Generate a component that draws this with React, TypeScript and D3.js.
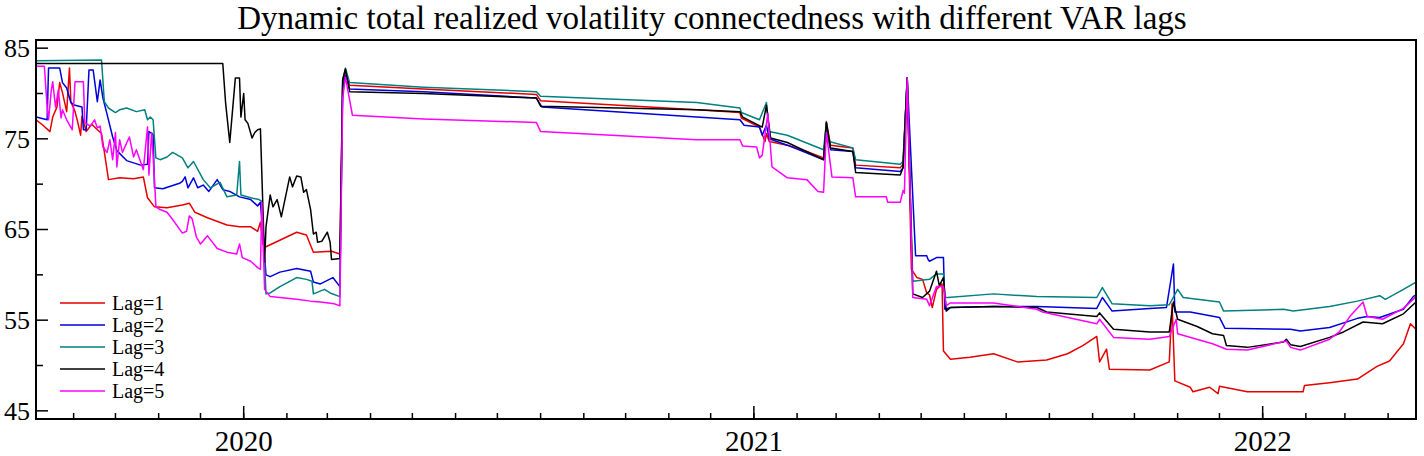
import * as d3 from "d3";

const title = "Dynamic total realized volatility connectedness with different VAR lags";
const seriesNames = ["Lag=1", "Lag=2", "Lag=3", "Lag=4", "Lag=5"];
const seriesColors = ["#e60000", "#0000dd", "#008080", "#000000", "#ff00ff"];
const yMajorTicks = [45, 55, 65, 75, 85];
const yMinorTicks = [50, 60, 70, 80];
const startDate = "2019-08-05";
const endDate = "2022-04-21";

const lag1: [string, number][] = [
  ["2019-08-05", 77.1], ["2019-08-10", 76.5], ["2019-08-15", 75.8], ["2019-08-17", 77.4], ["2019-08-20", 78.5],
  ["2019-08-22", 81.2], ["2019-08-24", 80.1], ["2019-08-27", 78.0], ["2019-08-29", 82.8], ["2019-08-30", 79.1],
  ["2019-09-02", 78.0], ["2019-09-04", 76.8], ["2019-09-06", 75.4], ["2019-09-07", 77.5], ["2019-09-10", 75.8],
  ["2019-09-14", 76.6], ["2019-09-18", 76.0], ["2019-09-21", 75.6], ["2019-09-23", 73.6], ["2019-09-26", 70.5],
  ["2019-10-04", 70.7], ["2019-10-14", 70.6], ["2019-10-21", 70.8], ["2019-10-24", 68.5], ["2019-10-29", 67.5],
  ["2019-11-07", 67.4], ["2019-11-18", 67.7], ["2019-11-23", 67.9], ["2019-11-27", 66.9], ["2019-12-06", 66.3],
  ["2019-12-20", 65.5], ["2019-12-29", 65.3], ["2020-01-06", 65.3], ["2020-01-11", 64.8], ["2020-01-13", 65.8],
  ["2020-01-15", 63.3], ["2020-01-17", 63.1], ["2020-02-08", 64.7], ["2020-02-15", 64.4], ["2020-02-20", 62.5],
  ["2020-03-04", 62.6], ["2020-03-10", 62.3], ["2020-03-12", 81.0], ["2020-03-14", 82.5], ["2020-03-17", 80.9],
  ["2020-05-09", 80.5], ["2020-07-29", 79.9], ["2020-08-01", 79.2], ["2020-11-21", 78.2], ["2020-12-22", 77.9],
  ["2020-12-23", 77.3], ["2021-01-05", 76.3], ["2021-01-09", 74.7], ["2021-01-10", 75.6], ["2021-01-12", 74.7],
  ["2021-01-25", 74.3], ["2021-02-08", 73.6], ["2021-02-20", 72.9], ["2021-02-22", 76.9], ["2021-02-25", 74.3],
  ["2021-03-13", 74.0], ["2021-03-15", 72.1], ["2021-04-16", 71.8], ["2021-04-18", 72.2], ["2021-04-21", 81.7],
  ["2021-04-24", 60.6], ["2021-04-28", 59.7], ["2021-05-02", 59.5], ["2021-05-05", 58.0], ["2021-05-07", 57.8],
  ["2021-05-09", 56.4], ["2021-05-12", 58.4], ["2021-05-16", 59.0], ["2021-05-17", 51.6], ["2021-05-22", 50.7],
  ["2021-06-05", 50.9], ["2021-06-22", 51.3], ["2021-07-09", 50.4], ["2021-07-30", 50.6], ["2021-08-14", 51.3],
  ["2021-08-25", 52.2], ["2021-09-04", 53.2], ["2021-09-06", 50.4], ["2021-09-11", 51.8], ["2021-09-13", 49.6],
  ["2021-10-12", 49.5], ["2021-10-26", 50.4], ["2021-10-28", 56.8], ["2021-10-30", 48.3], ["2021-11-10", 47.6],
  ["2021-11-12", 47.1], ["2021-11-24", 47.6], ["2021-11-30", 46.9], ["2021-12-01", 47.7], ["2021-12-21", 47.1],
  ["2022-01-21", 47.1], ["2022-01-30", 47.1], ["2022-01-31", 47.8], ["2022-02-18", 48.1], ["2022-03-10", 48.5],
  ["2022-03-24", 49.9], ["2022-04-02", 50.5], ["2022-04-12", 52.4], ["2022-04-17", 54.6], ["2022-04-21", 54.0],
];

const lag2: [string, number][] = [
  ["2019-08-05", 77.4], ["2019-08-13", 77.1], ["2019-08-14", 82.8], ["2019-08-22", 82.8], ["2019-08-24", 81.2],
  ["2019-08-27", 80.6], ["2019-08-30", 79.0], ["2019-09-02", 78.7], ["2019-09-07", 78.5], ["2019-09-08", 76.0],
  ["2019-09-10", 76.0], ["2019-09-12", 82.6], ["2019-09-15", 82.6], ["2019-09-18", 79.1], ["2019-09-20", 81.5],
  ["2019-09-22", 79.5], ["2019-09-25", 77.7], ["2019-09-29", 75.2], ["2019-10-02", 73.7], ["2019-10-09", 72.6],
  ["2019-10-19", 72.1], ["2019-10-24", 72.2], ["2019-10-25", 75.8], ["2019-10-28", 75.5], ["2019-10-29", 69.6],
  ["2019-11-04", 69.5], ["2019-11-16", 70.1], ["2019-11-18", 70.3], ["2019-11-20", 70.8], ["2019-11-22", 69.6],
  ["2019-11-26", 70.7], ["2019-11-29", 69.6], ["2019-12-03", 69.9], ["2019-12-07", 69.2], ["2019-12-13", 70.5],
  ["2019-12-17", 69.4], ["2019-12-22", 69.2], ["2019-12-29", 68.6], ["2020-01-06", 68.3], ["2020-01-11", 67.6],
  ["2020-01-13", 68.0], ["2020-01-17", 60.0], ["2020-01-20", 59.8], ["2020-01-27", 60.3], ["2020-02-08", 60.7],
  ["2020-02-18", 60.4], ["2020-02-20", 59.2], ["2020-02-25", 59.0], ["2020-03-05", 59.7], ["2020-03-10", 58.7],
  ["2020-03-12", 80.5], ["2020-03-14", 82.0], ["2020-03-17", 80.5], ["2020-05-09", 80.2], ["2020-07-29", 79.5],
  ["2020-08-02", 78.5], ["2020-11-21", 77.4], ["2020-12-22", 77.1], ["2020-12-25", 76.5], ["2021-01-05", 76.3],
  ["2021-01-07", 75.4], ["2021-01-10", 76.5], ["2021-01-12", 75.0], ["2021-01-25", 74.3], ["2021-02-20", 72.7],
  ["2021-02-22", 76.0], ["2021-02-25", 73.8], ["2021-03-13", 73.6], ["2021-03-15", 71.8], ["2021-04-16", 71.4],
  ["2021-04-18", 71.8], ["2021-04-21", 81.7], ["2021-04-27", 62.1], ["2021-05-05", 62.1], ["2021-05-06", 61.7],
  ["2021-05-07", 61.5], ["2021-05-12", 61.9], ["2021-05-17", 61.9], ["2021-05-18", 56.2], ["2021-05-22", 56.4],
  ["2021-06-22", 56.5], ["2021-07-23", 56.5], ["2021-09-04", 56.3], ["2021-09-08", 57.5], ["2021-09-15", 56.0],
  ["2021-10-12", 56.3], ["2021-10-24", 56.4], ["2021-10-29", 61.2], ["2021-10-30", 55.9], ["2021-11-10", 55.9],
  ["2021-12-01", 55.3], ["2021-12-05", 54.1], ["2022-01-21", 54.0], ["2022-01-28", 53.8], ["2022-02-18", 54.2],
  ["2022-03-10", 55.2], ["2022-03-17", 55.4], ["2022-03-26", 55.3], ["2022-04-12", 56.2], ["2022-04-19", 57.6],
  ["2022-04-21", 57.8],
];

const lag3: [string, number][] = [
  ["2019-08-05", 83.6], ["2019-09-21", 83.7], ["2019-09-23", 79.1], ["2019-09-26", 78.4], ["2019-10-01", 77.9],
  ["2019-10-04", 78.2], ["2019-10-09", 78.4], ["2019-10-16", 78.0], ["2019-10-22", 78.2], ["2019-10-24", 77.1],
  ["2019-10-26", 77.4], ["2019-10-28", 77.1], ["2019-10-30", 72.9], ["2019-11-02", 72.7], ["2019-11-07", 73.0],
  ["2019-11-11", 73.5], ["2019-11-18", 72.9], ["2019-11-22", 71.8], ["2019-11-26", 72.5], ["2019-12-03", 70.5],
  ["2019-12-08", 69.6], ["2019-12-15", 70.2], ["2019-12-20", 68.6], ["2019-12-27", 68.8], ["2019-12-29", 72.5],
  ["2019-12-30", 68.8], ["2020-01-06", 68.5], ["2020-01-12", 68.3], ["2020-01-14", 68.1], ["2020-01-17", 57.9],
  ["2020-01-20", 58.0], ["2020-01-27", 58.7], ["2020-02-08", 59.7], ["2020-02-15", 59.5], ["2020-02-19", 59.3],
  ["2020-02-20", 57.9], ["2020-02-28", 58.4], ["2020-03-03", 58.0], ["2020-03-10", 57.6], ["2020-03-12", 81.5],
  ["2020-03-14", 82.8], ["2020-03-17", 81.2], ["2020-05-09", 80.7], ["2020-07-29", 80.2], ["2020-08-01", 79.7],
  ["2020-11-21", 79.0], ["2020-12-22", 78.4], ["2020-12-23", 77.9], ["2021-01-05", 77.1], ["2021-01-10", 79.0],
  ["2021-01-12", 75.8], ["2021-01-25", 75.4], ["2021-02-20", 73.8], ["2021-02-22", 76.8], ["2021-02-24", 74.7],
  ["2021-03-13", 74.0], ["2021-03-15", 72.7], ["2021-04-16", 72.2], ["2021-04-18", 72.5], ["2021-04-21", 81.7],
  ["2021-04-25", 59.3], ["2021-05-07", 59.5], ["2021-05-12", 60.1], ["2021-05-17", 60.1], ["2021-05-18", 57.5],
  ["2021-05-20", 57.5], ["2021-06-22", 57.9], ["2021-07-23", 57.6], ["2021-09-04", 57.5], ["2021-09-08", 58.6],
  ["2021-09-15", 56.8], ["2021-10-12", 56.6], ["2021-10-26", 56.7], ["2021-11-01", 58.4], ["2021-11-05", 57.5],
  ["2021-12-01", 57.0], ["2021-12-04", 56.0], ["2022-01-16", 56.2], ["2022-01-23", 56.0], ["2022-02-18", 56.5],
  ["2022-03-10", 57.1], ["2022-03-26", 57.7], ["2022-03-30", 57.3], ["2022-04-12", 58.4], ["2022-04-21", 59.2],
];

const lag4: [string, number][] = [
  ["2019-08-05", 83.3], ["2019-12-17", 83.3], ["2019-12-19", 79.0], ["2019-12-22", 74.6], ["2019-12-26", 81.7],
  ["2019-12-29", 81.7], ["2019-12-30", 77.4], ["2020-01-01", 80.0], ["2020-01-02", 77.1], ["2020-01-04", 76.7],
  ["2020-01-07", 75.1], ["2020-01-09", 75.7], ["2020-01-11", 76.0], ["2020-01-13", 76.1], ["2020-01-16", 61.4],
  ["2020-01-17", 65.3], ["2020-01-20", 68.8], ["2020-01-22", 67.5], ["2020-01-25", 68.3], ["2020-01-28", 66.4],
  ["2020-01-31", 68.6], ["2020-02-03", 70.8], ["2020-02-05", 69.7], ["2020-02-08", 70.9], ["2020-02-11", 70.8],
  ["2020-02-13", 69.1], ["2020-02-15", 69.4], ["2020-02-18", 67.2], ["2020-02-20", 64.5], ["2020-02-22", 64.7],
  ["2020-02-23", 63.6], ["2020-02-26", 63.7], ["2020-03-01", 64.7], ["2020-03-03", 63.6], ["2020-03-04", 61.7],
  ["2020-03-10", 61.8], ["2020-03-12", 81.5], ["2020-03-14", 82.7], ["2020-03-17", 80.2], ["2020-05-09", 80.0],
  ["2020-07-29", 79.5], ["2020-08-01", 78.6], ["2020-11-21", 78.2], ["2020-12-22", 78.0], ["2020-12-24", 77.4],
  ["2021-01-07", 76.3], ["2021-01-10", 78.7], ["2021-01-13", 75.1], ["2021-01-25", 74.6], ["2021-02-20", 72.7],
  ["2021-02-22", 76.8], ["2021-02-25", 74.0], ["2021-03-13", 73.6], ["2021-03-15", 71.3], ["2021-04-16", 71.0],
  ["2021-04-18", 71.8], ["2021-04-21", 81.7], ["2021-04-25", 57.9], ["2021-05-02", 57.5], ["2021-05-07", 58.2],
  ["2021-05-12", 60.4], ["2021-05-14", 58.8], ["2021-05-17", 59.7], ["2021-05-19", 56.0], ["2021-05-22", 56.4],
  ["2021-06-22", 56.5], ["2021-07-23", 56.4], ["2021-07-30", 55.9], ["2021-09-04", 55.4], ["2021-09-06", 55.8],
  ["2021-09-16", 54.0], ["2021-10-12", 53.7], ["2021-10-26", 53.7], ["2021-10-29", 57.0], ["2021-11-01", 55.1],
  ["2021-11-15", 54.3], ["2021-11-26", 53.5], ["2021-12-04", 53.3], ["2021-12-06", 52.2], ["2021-12-21", 52.0],
  ["2022-01-16", 52.6], ["2022-01-18", 52.9], ["2022-01-21", 52.3], ["2022-01-28", 52.1], ["2022-02-18", 53.1],
  ["2022-02-28", 53.7], ["2022-03-14", 54.8], ["2022-03-28", 54.6], ["2022-04-12", 55.7], ["2022-04-21", 57.0],
];

const lag5: [string, number][] = [
  ["2019-08-05", 83.0], ["2019-08-11", 83.0], ["2019-08-13", 78.5], ["2019-08-14", 77.1], ["2019-08-16", 80.4],
  ["2019-08-17", 81.3], ["2019-08-19", 78.5], ["2019-08-21", 80.4], ["2019-08-23", 77.3], ["2019-08-24", 78.2],
  ["2019-08-27", 77.1], ["2019-08-31", 76.0], ["2019-09-02", 81.3], ["2019-09-08", 81.3], ["2019-09-09", 76.8],
  ["2019-09-13", 76.4], ["2019-09-16", 77.1], ["2019-09-18", 76.2], ["2019-09-20", 76.4], ["2019-09-22", 74.1],
  ["2019-09-25", 73.5], ["2019-09-27", 74.9], ["2019-09-29", 72.7], ["2019-10-01", 75.7], ["2019-10-02", 71.9],
  ["2019-10-04", 74.9], ["2019-10-06", 73.5], ["2019-10-08", 74.2], ["2019-10-11", 75.2], ["2019-10-14", 73.0],
  ["2019-10-16", 73.8], ["2019-10-21", 71.6], ["2019-10-24", 76.3], ["2019-10-25", 71.0], ["2019-10-27", 75.7],
  ["2019-10-29", 70.5], ["2019-10-30", 67.5], ["2019-11-02", 67.2], ["2019-11-07", 66.9], ["2019-11-11", 66.1],
  ["2019-11-18", 64.6], ["2019-11-21", 64.8], ["2019-11-23", 66.5], ["2019-11-25", 66.2], ["2019-11-28", 64.2],
  ["2019-12-01", 63.4], ["2019-12-06", 64.3], ["2019-12-13", 62.9], ["2019-12-20", 62.5], ["2019-12-27", 62.3],
  ["2019-12-29", 63.4], ["2019-12-31", 61.9], ["2020-01-06", 61.5], ["2020-01-11", 60.8], ["2020-01-13", 60.6],
  ["2020-01-14", 68.0], ["2020-01-16", 58.4], ["2020-01-20", 57.6], ["2020-01-27", 57.5], ["2020-02-08", 57.3],
  ["2020-02-18", 57.1], ["2020-02-25", 57.0], ["2020-03-06", 56.8], ["2020-03-10", 56.6], ["2020-03-12", 79.5],
  ["2020-03-14", 81.8], ["2020-03-19", 77.6], ["2020-05-09", 77.2], ["2020-07-29", 76.8], ["2020-08-01", 75.8],
  ["2020-11-21", 74.9], ["2020-12-22", 74.9], ["2020-12-24", 74.2], ["2021-01-03", 74.1], ["2021-01-05", 72.9],
  ["2021-01-07", 73.2], ["2021-01-11", 77.8], ["2021-01-14", 71.9], ["2021-01-25", 70.7], ["2021-02-08", 70.5],
  ["2021-02-16", 69.2], ["2021-02-20", 69.1], ["2021-02-22", 75.7], ["2021-02-26", 70.8], ["2021-03-13", 70.7],
  ["2021-03-15", 68.6], ["2021-04-06", 68.6], ["2021-04-07", 68.0], ["2021-04-16", 68.0], ["2021-04-18", 69.3],
  ["2021-04-19", 69.0], ["2021-04-21", 81.7], ["2021-04-25", 57.5], ["2021-05-05", 57.3], ["2021-05-07", 56.6],
  ["2021-05-12", 58.7], ["2021-05-17", 58.7], ["2021-05-19", 56.6], ["2021-05-22", 56.9], ["2021-06-22", 56.9],
  ["2021-07-23", 56.2], ["2021-07-27", 55.9], ["2021-09-04", 54.6], ["2021-09-06", 55.1], ["2021-09-16", 53.1],
  ["2021-10-12", 52.9], ["2021-10-26", 53.2], ["2021-10-31", 55.1], ["2021-11-01", 53.5], ["2021-11-26", 52.4],
  ["2021-12-06", 51.8], ["2021-12-21", 51.7], ["2022-01-18", 52.7], ["2022-01-21", 52.0], ["2022-01-28", 51.7],
  ["2022-02-18", 52.9], ["2022-02-25", 53.7], ["2022-03-05", 55.5], ["2022-03-14", 57.0], ["2022-03-17", 55.4],
  ["2022-03-28", 55.1], ["2022-04-12", 56.3], ["2022-04-21", 57.6],
];

const allSeries = [lag1, lag2, lag3, lag4, lag5];

const W = 1424;
const H = 456;
const margin = { top: 40, right: 8, bottom: 37, left: 36 };
const font = "'Liberation Serif', 'Times New Roman', serif";

export default function App() {
  const parse = d3.timeParse("%Y-%m-%d");
  const x = d3.scaleTime()
    .domain([parse(startDate)!, parse(endDate)!])
    .range([margin.left, W - margin.right]);
  const y = d3.scaleLinear()
    .domain([44.1, 85.9])
    .range([H - margin.bottom, margin.top]);

  const line = d3.line<[string, number]>()
    .x(d => x(parse(d[0])!))
    .y(d => y(d[1]));

  const monthTicks = x.ticks(d3.timeMonth.every(1)!);
  const yearTicks = x.ticks(d3.timeYear.every(1)!);
  const x0 = margin.left, x1 = W - margin.right;
  const y0 = H - margin.bottom, y1 = margin.top;

  return (
    <svg width={W} height={H} style={{ position: "absolute", left: 0, top: 0, background: "#fff" }}
      fontFamily={font}>
      <defs>
        <clipPath id="plot">
          <rect x={x0} y={y1} width={x1 - x0} height={y0 - y1} />
        </clipPath>
      </defs>
      <text x={712} y={29} textAnchor="middle" fontSize={33}>{title}</text>

      <g clipPath="url(#plot)" fill="none" strokeWidth={1.5} strokeLinejoin="round">
        {allSeries.map((s, i) => (
          <path key={i} d={line(s) ?? ""} stroke={seriesColors[i]} />
        ))}
      </g>

      {/* frame */}
      <rect x={x0} y={y1} width={x1 - x0} height={y0 - y1} fill="none" stroke="#000" strokeWidth={2} />

      {/* y ticks */}
      {yMajorTicks.map(t => (
        <g key={"ym" + t}>
          <line x1={x0} x2={x0 + 12} y1={y(t)} y2={y(t)} stroke="#000" strokeWidth={1.5} />
          <text x={x0 - 6} y={y(t)} dy="0.34em" textAnchor="end" fontSize={26}>{t}</text>
        </g>
      ))}
      {yMinorTicks.map(t => (
        <line key={"yn" + t} x1={x0} x2={x0 + 7} y1={y(t)} y2={y(t)} stroke="#000" strokeWidth={1.5} />
      ))}

      {/* x ticks */}
      {monthTicks.map(t => (
        <line key={"xm" + t.getTime()} x1={x(t)} x2={x(t)} y1={y0} y2={y0 - 6} stroke="#000" strokeWidth={1.5} />
      ))}
      {yearTicks.map(t => (
        <g key={"xy" + t.getTime()}>
          <line x1={x(t)} x2={x(t)} y1={y0} y2={y0 - 13} stroke="#000" strokeWidth={1.5} />
          <text x={x(t)} y={451} textAnchor="middle" fontSize={29}>{d3.timeFormat("%Y")(t)}</text>
        </g>
      ))}

      {/* legend */}
      {seriesNames.map((name, i) => (
        <g key={name} transform={`translate(60, ${303 + i * 22})`}>
          <line x1={0} x2={45} y1={0} y2={0} stroke={seriesColors[i]} strokeWidth={1.5} />
          <text x={52} y={0} dy="0.34em" fontSize={20}>{name}</text>
        </g>
      ))}
    </svg>
  );
}
